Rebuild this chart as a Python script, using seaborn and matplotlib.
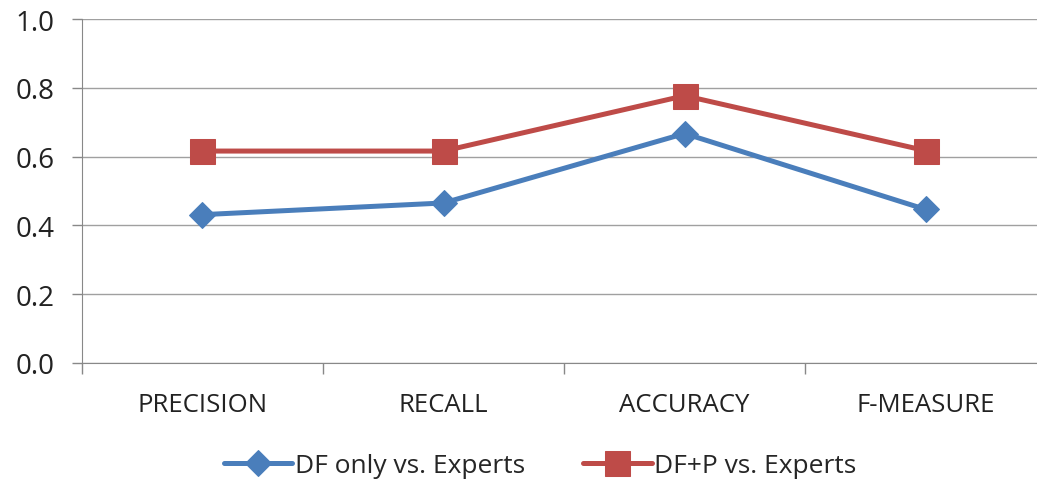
import pandas as pd
import matplotlib
matplotlib.use('Agg')
import matplotlib.pyplot as plt
import seaborn as sns

categories = ['PRECISION', 'RECALL', 'ACCURACY', 'F-MEASURE']
df_only = [0.431, 0.465, 0.667, 0.446]
df_p = [0.616, 0.616, 0.777, 0.617]
series_names = ['DF only vs. Experts', 'DF+P vs. Experts']

rows = []
for name, vals in zip(series_names, [df_only, df_p]):
    for i, (cat, v) in enumerate(zip(categories, vals)):
        rows.append({'pos': i, 'cat': cat, 'value': v, 'series': name})
df = pd.DataFrame(rows)

sns.set_style('white')
plt.rcParams['font.family'] = ['Open Sans', 'DejaVu Sans']

fig = plt.figure(figsize=(10.37, 4.89), dpi=100)
ax = fig.add_axes([0.079, 0.256, 0.93, 0.703])

palette = {series_names[0]: '#4A7EBB', series_names[1]: '#BE4B48'}
markers = {series_names[0]: 'D', series_names[1]: 's'}
sizes = {series_names[0]: 13.5, series_names[1]: 18}

for name in series_names:
    sub = df[df['series'] == name]
    sns.lineplot(data=sub, x='pos', y='value', ax=ax, color=palette[name],
                 marker=markers[name], markersize=sizes[name], linewidth=3.6,
                 markeredgecolor=palette[name], label=name)

ax.set_xlim(-0.5, 3.5)
ax.set_ylim(0, 1.0)
yt = [0, 0.2, 0.4, 0.6, 0.8, 1.0]
ax.set_yticks(yt)
ax.set_yticklabels([f'{t:.1f}' for t in yt], fontsize=20, color='#222222')
ax.set_xticks(range(len(categories)))
ax.set_xticklabels(categories, fontsize=18.5, color='#222222')
ax.set_xticks([-0.5, 0.5, 1.5, 2.5, 3.5], minor=True)
ax.tick_params(axis='x', which='major', bottom=False, length=0, pad=21)
ax.tick_params(axis='x', which='minor', bottom=True, length=8, color='#888888', width=1, direction='out')
ax.tick_params(axis='y', left=True, length=7.5, color='#888888', width=1, direction='out', pad=12)
ax.set_xlabel('')
ax.set_ylabel('')
ax.yaxis.grid(True, color='#A0A0A0', linewidth=1)
ax.set_axisbelow(True)
for s in ['top', 'right']:
    ax.spines[s].set_visible(False)
ax.spines['left'].set_color('#888888')
ax.spines['bottom'].set_color('#888888')

ax.legend(loc='center', bbox_to_anchor=(0.475, -0.30), ncol=2, frameon=False,
          fontsize=19, handlelength=2.6, columnspacing=2.2, handletextpad=0.1)

fig.savefig('out.png', dpi=100)
